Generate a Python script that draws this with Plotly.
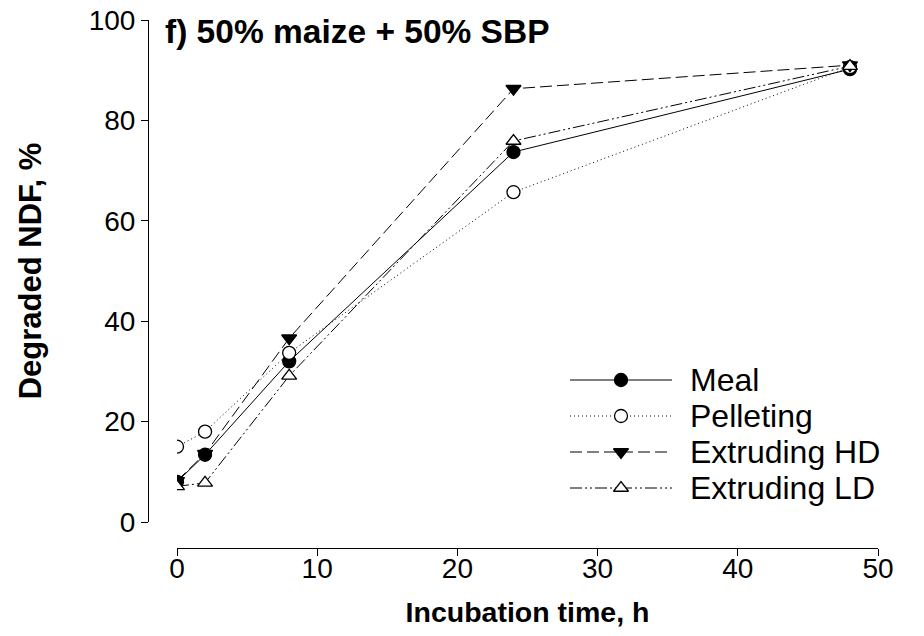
import plotly.graph_objects as go

time_h = [0, 2, 8, 24, 48]
meal = [8.0, 13.4, 32.0, 73.7, 90.2]
pelleting = [15.0, 18.0, 33.7, 65.7, 90.6]
extruding_hd = [8.2, 13.6, 36.6, 86.3, 91.0]
extruding_ld = [7.1, 7.8, 29.1, 75.9, 90.8]
series_names = ["Meal", "Pelleting", "Extruding HD", "Extruding LD"]

series = [
    (series_names[0], meal, "circle", "black", "solid"),
    (series_names[1], pelleting, "circle", "white", "1px,3px"),
    (series_names[2], extruding_hd, "triangle-down", "black", "12px,5px"),
    (series_names[3], extruding_ld, "triangle-up", "white", "12px,3px,2px,3px,2px,3px"),
]

W, H = 924, 636
l, r, t, b = 148, 46, 20, 88
pw = W - l - r
ph = H - t - b

def px_x(px):
    return (px - l) / pw

def px_y(py):
    return (t + ph - py) / ph

fig = go.Figure()
for i, (name, vals, sym, fill, dash) in enumerate(series):
    mk = dict(symbol=sym, size=13, color=fill, line=dict(color="black", width=1.3))
    fig.add_trace(go.Scatter(
        x=time_h, y=vals, name=name, mode="lines+markers", showlegend=False,
        line=dict(color="black", width=1, dash=dash), marker=mk,
    ))
    # legend sample: a short line with a centred marker, on a small overlay axis
    fig.add_trace(go.Scatter(
        x=[0, 1], y=[i, i], mode="lines", showlegend=False,
        xaxis="x2", yaxis="y2", hoverinfo="skip",
        line=dict(color="black", width=1, dash=dash),
    ))
    fig.add_trace(go.Scatter(
        x=[0.5], y=[i], mode="markers", showlegend=False,
        xaxis="x2", yaxis="y2", hoverinfo="skip", marker=mk,
    ))

# legend rows: 36px apart, first centred at y=380 px
leg_top, leg_row = 362, 36
leg_bottom = leg_top + leg_row * len(series_names)
annotations = [dict(text="<b>f) 50% maize + 50% SBP</b>", xref="paper", yref="paper",
                    x=px_x(163), y=px_y(31), xanchor="left", yanchor="middle",
                    showarrow=False, font=dict(size=33.5))]
for i, name in enumerate(series_names):
    annotations.append(dict(text=name, xref="paper", yref="paper",
                            x=px_x(688), y=px_y(leg_top + leg_row * (i + 0.5)),
                            xanchor="left", yanchor="middle", showarrow=False,
                            font=dict(size=32)))

fig.update_layout(
    width=W, height=H,
    margin=dict(l=l, r=r, t=t, b=b, pad=0),
    paper_bgcolor="white", plot_bgcolor="white",
    font=dict(family="Liberation Sans, Arial", size=28, color="black"),
    showlegend=False,
    xaxis=dict(range=[0, 50], domain=[px_x(177), 1], anchor="free", position=0,
               automargin=False,
               showline=True, linecolor="black", linewidth=1,
               ticks="outside", ticklen=7, tickcolor="black", tickwidth=1,
               ticklabelstandoff=-12,
               tickvals=[0, 10, 20, 30, 40, 50], showgrid=False, zeroline=False,
               tickfont=dict(size=28),
               title=dict(text="<b>Incubation time, h</b>", font=dict(size=28.5), standoff=19)),
    yaxis=dict(range=[0, 100], domain=[px_y(522), 1], anchor="free", position=0,
               automargin=False,
               showline=True, linecolor="black", linewidth=1,
               ticks="outside", ticklen=7, tickcolor="black", tickwidth=1,
               tickvals=[0, 20, 40, 60, 80, 100], showgrid=False, zeroline=False,
               tickfont=dict(size=28),
               title=dict(text="<b>Degraded NDF, %</b>", font=dict(size=31), standoff=36)),
    xaxis2=dict(range=[0, 1], domain=[px_x(570), px_x(672)], anchor="y2",
                visible=False, fixedrange=True),
    yaxis2=dict(range=[3.5, -0.5], domain=[px_y(leg_bottom), px_y(leg_top)], anchor="x2",
                visible=False, fixedrange=True),
    annotations=annotations,
)

fig.write_html("out.html")
